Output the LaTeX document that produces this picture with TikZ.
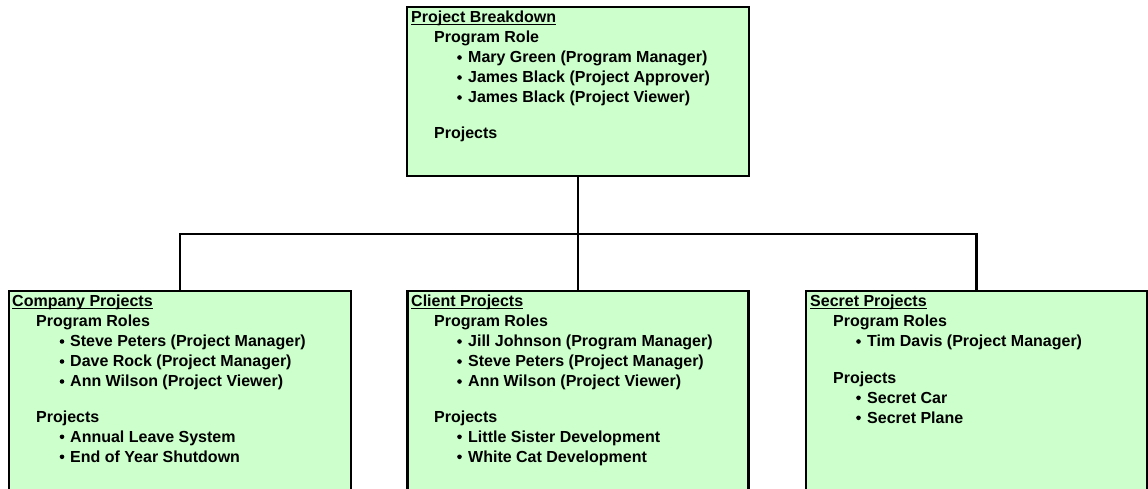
\documentclass[tikz,border=0pt]{standalone}
\usepackage{fontspec}
\setmainfont{Liberation Sans}
\begin{document}
\begin{tikzpicture}[x=1pt,y=-1pt,
  box/.style={draw=black,line width=2.3pt,fill=boxgreen,rectangle,inner sep=0pt},
  txt/.style={anchor=base west,inner sep=0pt,font=\fontsize{16}{18}\selectfont\bfseries},
  dot/.style={circle,fill=black,inner sep=0pt,minimum size=4.6pt},
  conn/.style={draw=black,line width=2.3pt},
  uline/.style={draw=black,line width=1.1pt}]
\definecolor{boxgreen}{HTML}{CCFFCC}
\useasboundingbox (0,0) rectangle (1148,488);
\clip (0,0) rectangle (1148,488);
% boxes
\node[box,minimum width=342pt,minimum height=169pt] (top) at (578,91.5) {};
\node[box,minimum width=342pt,minimum height=220pt] (left) at (180,401) {};
\node[box,minimum width=341pt,minimum height=220pt] (mid) at (578,401) {};
\node[box,minimum width=341pt,minimum height=220pt] (right) at (976.5,401) {};
% connectors
\coordinate (hr) at (976.5,234);
\draw[conn] (top.south) -- (mid.north);
\draw[conn] (left.north) |- (hr) -- (right.north);
% top box text
\node[txt] (t0) at (411,22.7) {Project Breakdown};
\draw[uline] ([yshift=-1.5pt]t0.base west) -- ([yshift=-1.5pt]t0.base east);
\node[txt] (t1) at (434,42.7) {Program Role};
\node[dot] (tb2) at (459.5,57.5) {};
\node[txt] (t2) at (468,62.7) {Mary Green (Program Manager)};
\node[dot] (tb3) at (459.5,77.5) {};
\node[txt] (t3) at (468,82.7) {James Black (Project Approver)};
\node[dot] (tb4) at (459.5,97.5) {};
\node[txt] (t4) at (468,102.7) {James Black (Project Viewer)};
\node[txt] (t5) at (434,138) {Projects};
% left box text
\node[txt] (l0) at (12,306.7) {Company Projects};
\draw[uline] ([yshift=-1.5pt]l0.base west) -- ([yshift=-1.5pt]l0.base east);
\node[txt] (l1) at (36,326.7) {Program Roles};
\node[dot] (lb2) at (62,341.5) {};
\node[txt] (l2) at (70,346.7) {Steve Peters (Project Manager)};
\node[dot] (lb3) at (62,361.5) {};
\node[txt] (l3) at (70,366.7) {Dave Rock (Project Manager)};
\node[dot] (lb4) at (62,381.5) {};
\node[txt] (l4) at (70,386.7) {Ann Wilson (Project Viewer)};
\node[txt] (l5) at (36,422) {Projects};
\node[dot] (lb6) at (62,436.8) {};
\node[txt] (l6) at (70,442) {Annual Leave System};
\node[dot] (lb7) at (62,456.8) {};
\node[txt] (l7) at (70,462) {End of Year Shutdown};
% middle box text
\node[txt] (m0) at (411,306.7) {Client Projects};
\draw[uline] ([yshift=-1.5pt]m0.base west) -- ([yshift=-1.5pt]m0.base east);
\node[txt] (m1) at (434,326.7) {Program Roles};
\node[dot] (mb2) at (459.5,341.5) {};
\node[txt] (m2) at (468,346.7) {Jill Johnson (Program Manager)};
\node[dot] (mb3) at (459.5,361.5) {};
\node[txt] (m3) at (468,366.7) {Steve Peters (Project Manager)};
\node[dot] (mb4) at (459.5,381.5) {};
\node[txt] (m4) at (468,386.7) {Ann Wilson (Project Viewer)};
\node[txt] (m5) at (434,422) {Projects};
\node[dot] (mb6) at (459.5,436.8) {};
\node[txt] (m6) at (468,442) {Little Sister Development};
\node[dot] (mb7) at (459.5,456.8) {};
\node[txt] (m7) at (468,462) {White Cat Development};
% right box text
\node[txt] (r0) at (810,306.7) {Secret Projects};
\draw[uline] ([yshift=-1.5pt]r0.base west) -- ([yshift=-1.5pt]r0.base east);
\node[txt] (r1) at (833,326.7) {Program Roles};
\node[dot] (rb2) at (858.5,341.5) {};
\node[txt] (r2) at (867,346.7) {Tim Davis (Project Manager)};
\node[txt] (r3) at (833,383) {Projects};
\node[dot] (rb4) at (858.5,397.8) {};
\node[txt] (r4) at (867,403) {Secret Car};
\node[dot] (rb5) at (858.5,417.8) {};
\node[txt] (r5) at (867,423) {Secret Plane};
\end{tikzpicture}
\end{document}
